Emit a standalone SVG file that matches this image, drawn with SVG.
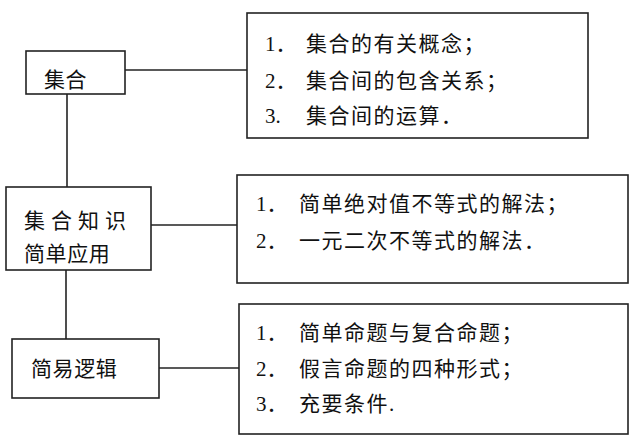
<svg xmlns="http://www.w3.org/2000/svg" width="640" height="445" viewBox="0 0 640 445">
<style>
.box{fill:#fff;stroke:#222;stroke-width:1.6}
.con{fill:none;stroke:#222;stroke-width:1.6}
text{font-family:"Liberation Serif","Noto Sans CJK SC",serif;font-size:21px;fill:#111}
.n{letter-spacing:0.6px}
.t{letter-spacing:1.5px}
</style>
<rect width="640" height="445" fill="#fff"/>
<g id="connectors">
<line class="con" x1="125" y1="70" x2="247" y2="70"/>
<line class="con" x1="67" y1="94" x2="67" y2="187"/>
<line class="con" x1="151" y1="225" x2="237" y2="225"/>
<line class="con" x1="66" y1="270" x2="66" y2="339"/>
<line class="con" x1="159" y1="368" x2="239" y2="368"/>
</g>
<g id="node-jihe">
<rect class="box" x="26" y="51" width="99" height="43"/>
<text class="n" x="44" y="87">集合</text>
</g>
<g id="node-zhishi">
<rect class="box" x="6" y="187" width="145" height="83"/>
<text x="24" y="228" style="letter-spacing:6px">集合知识</text>
<text class="n" x="24" y="261">简单应用</text>
</g>
<g id="node-luoji">
<rect class="box" x="12" y="339" width="147" height="59"/>
<text class="n" x="31" y="376">简易逻辑</text>
</g>
<g id="box-jihe">
<rect class="box" x="247" y="13" width="341" height="125"/>
<text x="265" y="51">1．<tspan class="t" x="306">集合的有关概念；</tspan></text>
<text x="265" y="88">2．<tspan class="t" x="306">集合间的包含关系；</tspan></text>
<text x="265" y="123">3.<tspan class="t" x="306">集合间的运算．</tspan></text>
</g>
<g id="box-yingyong">
<rect class="box" x="237" y="175" width="391" height="108"/>
<text x="256" y="211">1．<tspan class="t" x="299">简单绝对值不等式的解法；</tspan></text>
<text x="256" y="248">2．<tspan class="t" x="299">一元二次不等式的解法．</tspan></text>
</g>
<g id="box-luoji">
<rect class="box" x="239" y="304" width="389" height="130"/>
<text x="256" y="340">1．<tspan class="t" x="299">简单命题与复合命题；</tspan></text>
<text x="256" y="376">2．<tspan class="t" x="299">假言命题的四种形式；</tspan></text>
<text x="256" y="411">3．<tspan class="t" x="299">充要条件.</tspan></text>
</g>
</svg>
